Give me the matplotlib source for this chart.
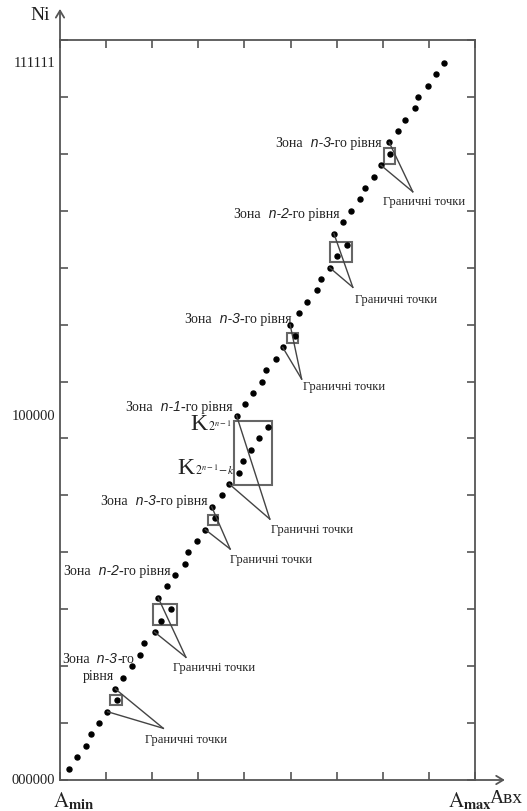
import numpy as np
import matplotlib.pyplot as plt
from matplotlib.patches import Rectangle

plt.rcParams['mathtext.fontset'] = 'stix'

# output code of each dot (vertical axis) and the input level where it appears
codes = [1, 2, 3, 4, 5, 6, 7, 8, 9, 10, 11, 12, 13, 14, 15, 16, 17, 18, 19, 20,
         21, 22, 23, 24, 25, 26, 27, 28, 29, 30, 31, 32, 33, 34, 35, 36, 37, 38, 39, 40,
         41, 42, 43, 44, 45, 46, 47, 48, 49, 50, 51, 52, 53, 54, 55, 56, 57, 58, 59, 60,
         61, 62, 63]
levels = [0.20, 0.36, 0.56, 0.67, 0.85, 1.03, 1.24, 1.20, 1.37, 1.56,
          1.74, 1.83, 2.05, 2.20, 2.41, 2.13, 2.31, 2.49, 2.70, 2.78,
          2.98, 3.15, 3.36, 3.29, 3.51, 3.67, 3.88, 3.96, 4.15, 4.32,
          4.52, 3.83, 4.01, 4.19, 4.38, 4.47, 4.68, 4.83, 5.09, 4.99,
          5.19, 5.36, 5.57, 5.65, 5.85, 6.01, 6.22, 5.94, 6.13, 6.31,
          6.51, 6.62, 6.80, 6.96, 7.16, 7.14, 7.33, 7.48, 7.69, 7.77,
          7.99, 8.15, 8.33]

# zones (x0, y0, x1, y1)
zone_boxes = [(1.08, 6.6, 1.35, 7.5), (2.01, 13.6, 2.54, 15.5),
              (3.22, 22.4, 3.43, 23.3), (3.77, 25.9, 4.59, 31.5),
              (4.93, 38.4, 5.16, 39.3), (5.86, 45.5, 6.33, 47.3),
              (7.03, 54.1, 7.27, 55.5)]

# boundary points (upper code, lower code) for each zone
boundary_pairs = [(8, 6), (16, 13), (24, 22), (32, 26), (40, 38), (48, 45), (56, 54)]
callout_tip = [(2.24, 4.54), (2.73, 10.78), (3.69, 20.29), (4.55, 22.92),
               (5.24, 35.22), (6.35, 43.28), (7.65, 51.67)]
callout_text = [(1.84, 3.60), (2.45, 9.93), (3.69, 19.41), (4.58, 22.05),
                (5.27, 34.61), (6.40, 42.25), (7.00, 50.86)]
callout_label = 'Граничні точки'

zone_levels = ['n-3', 'n-2', 'n-3', 'n-1', 'n-3', 'n-2']
zone_label_pos = [(4.66, 56.04), (3.75, 49.72), (2.69, 40.50),
                  (1.41, 32.77), (0.87, 24.51), (0.07, 18.36)]

# code marks K on the big zone
k_subs = [r'$2^{n-1}$', r'$2^{n-1}\!-k$']
k_pos = [(2.82, 30.83), (2.54, 26.96)]

ytick_codes = [63, 32, 0]
ytick_labels = ['111111', '100000', '000000']

ink = '#222222'
frame = '#555555'
serif = dict(family='Liberation Serif', size=10, color=ink)
ital = dict(family='Liberation Sans', style='italic', size=10, color=ink)

fig = plt.figure(figsize=(5.27, 8.12), dpi=100)
ax = fig.add_axes([60/527, 31/812, 415/527, 740/812])
ax.set_xlim(0, 9)
ax.set_ylim(0, 65)

for s in ax.spines.values():
    s.set_color(frame)
    s.set_linewidth(1.3)
ax.set_xticks(np.arange(0, 10))
ax.set_yticks(np.arange(0, 70, 5))
ax.tick_params(direction='in', top=True, right=True, length=6, width=1.2,
               color=frame, labelleft=False, labelbottom=False)

# arrows on the axes
ax.annotate('', xy=(0, 1.042), xytext=(0, 0.999), xycoords='axes fraction',
            arrowprops=dict(arrowstyle='->,head_length=0.5,head_width=0.3',
                            color=frame, lw=1.3, shrinkA=0, shrinkB=0))
ax.annotate('', xy=(1.072, 0), xytext=(0.999, 0), xycoords='axes fraction',
            arrowprops=dict(arrowstyle='->,head_length=0.5,head_width=0.3',
                            color=frame, lw=1.3, shrinkA=0, shrinkB=0))

ax.plot(levels, codes, 'o', color='black', ms=3.6, clip_on=False)

for x0, y0, x1, y1 in zone_boxes:
    ax.add_patch(Rectangle((x0, y0), x1 - x0, y1 - y0, fill=False,
                           edgecolor='#666666', lw=1.5))

for (up, lo), tip, pos in zip(boundary_pairs, callout_tip, callout_text):
    for k in (up, lo):
        ax.plot([levels[k - 1], tip[0]], [codes[k - 1], tip[1]],
                color='#444444', lw=1.0)
    ax.text(pos[0], pos[1], callout_label, va='center', ha='left',
            **dict(serif, size=9))


def rich(x, y, parts):
    t = ax.text(x, y, parts[0][0], va='center', ha='left', **parts[0][1])
    for s, kw in parts[1:]:
        t = ax.annotate(s, xy=(1, 0), xycoords=t, va='bottom', ha='left', **kw)
    return t


for lev, (x, y) in zip(zone_levels, zone_label_pos):
    rich(x, y, [('Зона', serif), ('  ' + lev, ital), ('-го рівня', serif)])
# the lowest zone label is split into two lines
rich(0.04, 10.71, [('Зона', serif), ('  n-3', ital), ('-го', serif)])
ax.text(0.50, 9.22, 'рівня', va='center', ha='left', **serif)

for sub, (x, y) in zip(k_subs, k_pos):
    kt = ax.text(x, y, 'K', va='baseline', ha='left',
                 family='Liberation Serif', size=17, color=ink)
    ax.annotate(sub, xy=(1, 0), xycoords=kt, xytext=(0.5, 1),
                textcoords='offset points', va='bottom', ha='left',
                size=8.5, color=ink)

ytr = ax.get_yaxis_transform()
for c, lab in zip(ytick_codes, ytick_labels):
    ax.text(-0.012, c, lab, transform=ytr, va='center', ha='right',
            family='Liberation Serif', size=10.5, color=ink)

ax.text(-0.024, 1.035, 'Ni', transform=ax.transAxes, va='center', ha='right',
        family='Liberation Serif', size=14, color=ink)
ax.text(-0.017, -0.012, r'$\mathrm{A}_{\mathbf{min}}$', transform=ax.transAxes,
        va='top', ha='left', size=15, color=ink)
ax.text(0.935, -0.012, r'$\mathrm{A}_{\mathbf{max}}$', transform=ax.transAxes,
        va='top', ha='left', size=15, color=ink)
ax.text(1.036, -0.012, 'Aвх', transform=ax.transAxes,
        va='top', ha='left', family='Liberation Serif', size=14, color=ink)

fig.savefig('out.png', dpi=100)
